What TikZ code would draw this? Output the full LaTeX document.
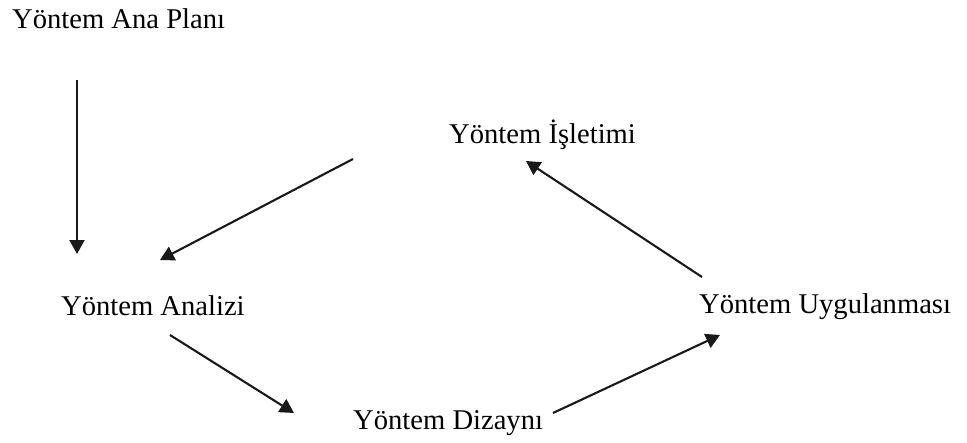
\documentclass[tikz,border=0pt]{standalone}
\usepackage{fontspec}
\setmainfont{Liberation Serif}
\usetikzlibrary{arrows.meta}
\begin{document}
\begin{tikzpicture}[x=1pt,y=-1pt,
  lbl/.style={anchor=base west,inner sep=0pt,font=\fontsize{28.6}{34}\selectfont,text=black},
  conn/.style={line width=2.1pt,draw=black!90,-{Triangle[length=14pt,width=15pt]}}]
\useasboundingbox (0,0) rectangle (967,442);
\node[lbl] (plan) at (12,28) {Yöntem Ana Planı};
\node[lbl] (islet) at (449,143) {Yöntem İşletimi};
\node[lbl] (analiz) at (61,315) {Yöntem Analizi};
\node[lbl] (uygul) at (699,313) {Yöntem Uygulanması};
\node[lbl] (dizayn) at (353,429) {Yöntem Dizaynı};
\coordinate (p1s) at (77,80);   \coordinate (p1e) at (77,254);
\coordinate (p2s) at (353,159); \coordinate (p2e) at (160,260);
\coordinate (p3s) at (170,335); \coordinate (p3e) at (294,413);
\coordinate (p4s) at (553,413); \coordinate (p4e) at (720,335);
\coordinate (p5s) at (702,277); \coordinate (p5e) at (526,161);
\draw[conn] (p1s) -- (p1e);
\draw[conn] (p2s) -- (p2e);
\draw[conn] (p3s) -- (p3e);
\draw[conn] (p4s) -- (p4e);
\draw[conn] (p5s) -- (p5e);
\end{tikzpicture}
\end{document}
